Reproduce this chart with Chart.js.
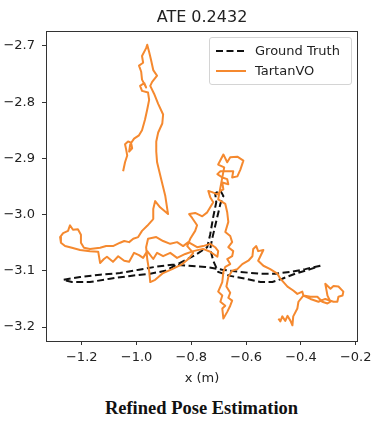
<!DOCTYPE html>
<html>
<head>
<meta charset="utf-8">
<script src="https://cdn.jsdelivr.net/npm/chart.js@4.4.1/dist/chart.umd.min.js"></script>
<style>
  body { margin: 0; background: #fff; }
  #wrap { position: relative; width: 379px; height: 423px; overflow: hidden; }
  #plot { position: absolute; left: 0; top: 0; }
  .titulo { position: absolute; left: 102px; width: 200px; text-align: center; top: 7px;
            font: 16px "DejaVu Sans"; color: #222; }
  .leyenda { position: absolute; left: 209px; top: 37px; width: 141px; height: 46px;
             border: 1px solid #d4d4d4; border-radius: 3px; background: rgba(255,255,255,0.85);
             font: 13px "DejaVu Sans"; color: #222; }
  .fila { position: absolute; left: 0; height: 16px; line-height: 16px; }
  .fila svg { position: absolute; left: 5px; top: 3px; }
  .fila span { position: absolute; left: 45px; white-space: nowrap; }
  .pie { position: absolute; left: 0; width: 403px; text-align: center; top: 398px;
         font: bold 18.5px "Liberation Serif", "Times New Roman", serif; color: #111; }
</style>
</head>
<body>
<div id="wrap">
  <canvas id="plot" width="379" height="390"></canvas>
  <div class="titulo">ATE 0.2432</div>
  <div class="leyenda" id="leyenda"></div>
  <div class="pie">Refined Pose Estimation</div>
</div>
<script>
// nombres y colores de las series
const nombres = ["Ground Truth", "TartanVO"];
const colores = ["#111111", "#f5892f"];

// ticks de los ejes
const ticksX = [-1.2, -1.0, -0.8, -0.6, -0.4, -0.2];
const ticksY = [-3.2, -3.1, -3.0, -2.9, -2.8, -2.7];

// ground truth (x, y en metros)
const gtX = [-0.329, -0.384, -0.438, -0.493, -0.555, -0.621, -0.687, -0.749, -0.811, -0.870,
  -0.932, -0.991, -1.060, -1.133, -1.206, -1.268, -1.236, -1.170, -1.097, -1.023,
  -0.950, -0.895, -0.841, -0.786, -0.742, -0.731, -0.720, -0.709, -0.713, -0.694,
  -0.683, -0.694, -0.709, -0.724, -0.731, -0.720, -0.702, -0.658, -0.603, -0.548,
  -0.504, -0.468, -0.420, -0.365, -0.329];
const gtY = [-3.091, -3.097, -3.102, -3.105, -3.105, -3.102, -3.098, -3.093, -3.091, -3.089,
  -3.093, -3.098, -3.104, -3.107, -3.111, -3.116, -3.120, -3.120, -3.114, -3.109,
  -3.105, -3.100, -3.086, -3.072, -3.058, -3.035, -3.004, -2.978, -2.962, -2.957,
  -2.967, -2.981, -3.012, -3.043, -3.061, -3.082, -3.102, -3.109, -3.114, -3.120,
  -3.120, -3.114, -3.105, -3.097, -3.091];

// estimacion TartanVO
const voX = [-1.049, -1.042, -1.034, -1.038, -1.042, -1.031, -1.020, -1.016, -1.027, -1.023,
  -1.009, -0.991, -0.980, -0.969, -0.961, -0.954, -0.958, -0.980, -0.987, -0.972,
  -0.965, -0.980, -0.983, -0.991, -0.976, -0.980, -0.965, -0.961, -0.954, -0.947,
  -0.939, -0.925, -0.943, -0.950, -0.936, -0.921, -0.903, -0.906, -0.921, -0.928,
  -0.928, -0.925, -0.910, -0.895, -0.885, -0.914, -0.932, -0.939, -0.939, -0.961,
  -0.980, -0.994, -1.012, -1.027, -1.045, -1.060, -1.086, -1.111, -1.133, -1.170,
  -1.192, -1.203, -1.203, -1.214, -1.232, -1.243, -1.250, -1.268, -1.279, -1.276,
  -1.261, -1.236, -1.206, -1.170, -1.140, -1.133, -1.119, -1.108, -1.086, -1.067,
  -1.045, -1.027, -1.009, -0.991, -0.976, -0.961, -0.939, -0.925, -0.903, -0.877,
  -0.852, -0.822, -0.793, -0.757, -0.731, -0.705, -0.702, -0.713, -0.731, -0.757,
  -0.779, -0.811, -0.830, -0.852, -0.877, -0.903, -0.928, -0.958, -0.965, -0.961,
  -0.954, -0.950, -0.932, -0.903, -0.870, -0.833, -0.811, -0.793, -0.815, -0.804,
  -0.786, -0.779, -0.797, -0.808, -0.786, -0.760, -0.742, -0.731, -0.720, -0.731,
  -0.738, -0.724, -0.705, -0.694, -0.683, -0.687, -0.665, -0.669, -0.687, -0.705,
  -0.694, -0.669, -0.647, -0.651, -0.632, -0.621, -0.610, -0.632, -0.658, -0.669,
  -0.683, -0.702, -0.680, -0.702, -0.676, -0.669, -0.665, -0.676, -0.658, -0.651,
  -0.665, -0.647, -0.651, -0.669, -0.658, -0.676, -0.683, -0.687, -0.702, -0.687,
  -0.694, -0.676, -0.687, -0.683, -0.669, -0.658, -0.651, -0.665, -0.658, -0.672,
  -0.665, -0.651, -0.632, -0.614, -0.592, -0.577, -0.574, -0.563, -0.556, -0.537,
  -0.548, -0.556, -0.537, -0.512, -0.486, -0.475, -0.449, -0.428, -0.413, -0.395,
  -0.391, -0.365, -0.340, -0.322, -0.303, -0.292, -0.303, -0.311, -0.292, -0.281,
  -0.263, -0.245, -0.248, -0.263, -0.267, -0.281, -0.311, -0.336, -0.365, -0.391,
  -0.409, -0.413, -0.428, -0.431, -0.438, -0.449, -0.457, -0.468, -0.475, -0.482];
const voY = [-2.923, -2.907, -2.895, -2.884, -2.875, -2.870, -2.872, -2.882, -2.888, -2.875,
  -2.865, -2.859, -2.850, -2.831, -2.813, -2.796, -2.783, -2.780, -2.771, -2.766,
  -2.774, -2.760, -2.746, -2.735, -2.730, -2.718, -2.704, -2.698, -2.711, -2.725,
  -2.743, -2.753, -2.764, -2.771, -2.785, -2.803, -2.822, -2.838, -2.854, -2.870,
  -2.888, -2.907, -2.937, -2.967, -2.999, -2.987, -2.976, -2.990, -3.008, -3.020,
  -3.029, -3.040, -3.043, -3.049, -3.047, -3.050, -3.056, -3.056, -3.059, -3.061,
  -3.059, -3.050, -3.036, -3.026, -3.027, -3.019, -3.029, -3.033, -3.040, -3.050,
  -3.056, -3.059, -3.063, -3.065, -3.066, -3.086, -3.079, -3.075, -3.084, -3.074,
  -3.082, -3.084, -3.068, -3.072, -3.077, -3.065, -3.079, -3.068, -3.074, -3.068,
  -3.077, -3.070, -3.065, -3.061, -3.066, -3.075, -3.065, -3.058, -3.052, -3.056,
  -3.058, -3.049, -3.056, -3.049, -3.052, -3.047, -3.040, -3.043, -3.058, -3.079,
  -3.100, -3.120, -3.116, -3.104, -3.097, -3.088, -3.079, -3.068, -3.056, -3.043,
  -3.029, -3.019, -3.006, -2.999, -2.997, -3.003, -2.996, -2.987, -2.978, -2.969,
  -2.958, -2.960, -2.964, -2.958, -2.955, -2.943, -2.946, -2.937, -2.934, -2.928,
  -2.923, -2.923, -2.923, -2.934, -2.932, -2.920, -2.904, -2.897, -2.898, -2.907,
  -2.893, -2.911, -2.916, -2.973, -2.981, -2.996, -3.013, -3.031, -3.038, -3.049,
  -3.058, -3.065, -3.074, -3.079, -3.088, -3.093, -3.102, -3.120, -3.137, -3.144,
  -3.155, -3.162, -3.167, -3.185, -3.173, -3.162, -3.153, -3.148, -3.139, -3.128,
  -3.111, -3.100, -3.097, -3.088, -3.082, -3.074, -3.061, -3.056, -3.065, -3.063,
  -3.074, -3.082, -3.091, -3.097, -3.105, -3.114, -3.128, -3.135, -3.141, -3.137,
  -3.144, -3.146, -3.146, -3.155, -3.158, -3.155, -3.144, -3.123, -3.132, -3.127,
  -3.128, -3.137, -3.144, -3.146, -3.155, -3.155, -3.150, -3.155, -3.150, -3.144,
  -3.155, -3.167, -3.181, -3.197, -3.189, -3.180, -3.189, -3.181, -3.190, -3.185];

const guion = [7, 3.5];

function aPuntos(xs, ys) {
  return xs.map((x, i) => ({ x: x, y: ys[i] }));
}

// el menos tipografico de matplotlib
function etiqueta(v) {
  return (v < 0 ? "\u2212" : "") + Math.abs(v).toFixed(1);
}

// leyenda dentro del area, como la de matplotlib
const leyenda = document.getElementById("leyenda");
nombres.forEach((nombre, i) => {
  const dash = i === 0 ? `stroke-dasharray="${guion.join(",")}"` : "";
  leyenda.innerHTML += `<div class="fila" style="top:${5 + i * 20}px">
      <svg width="32" height="10"><line x1="1" y1="5" x2="31" y2="5" stroke="${colores[i]}" stroke-width="2" ${dash}/></svg>
      <span>${nombre}</span></div>`;
});

// marco completo alrededor del area del grafico
const marco = {
  id: "marco",
  afterDraw(chart) {
    const a = chart.chartArea;
    const ctx = chart.ctx;
    ctx.save();
    ctx.strokeStyle = "#333";
    ctx.lineWidth = 1;
    ctx.strokeRect(Math.round(a.left) + 0.5, Math.round(a.top) + 0.5,
      Math.round(a.right - a.left) - 1, Math.round(a.bottom - a.top));
    ctx.restore();
  }
};

const fuente = { family: "DejaVu Sans", size: 13 };

new Chart(document.getElementById("plot"), {
  type: "scatter",
  data: {
    datasets: [
      {
        label: nombres[1],
        data: aPuntos(voX, voY),
        showLine: true,
        borderColor: colores[1],
        borderWidth: 2,
        borderJoinStyle: "round",
        pointRadius: 0,
        tension: 0
      },
      {
        label: nombres[0],
        data: aPuntos(gtX, gtY),
        showLine: true,
        borderColor: colores[0],
        borderWidth: 2,
        borderDash: guion,
        pointRadius: 0,
        tension: 0
      }
    ]
  },
  options: {
    responsive: false,
    animation: false,
    devicePixelRatio: 1,
    layout: { padding: { top: 31, right: 21, left: 0, bottom: 0 } },
    plugins: { legend: { display: false }, tooltip: { enabled: false } },
    scales: {
      x: {
        type: "linear",
        min: -1.3305,
        max: -0.1916,
        afterBuildTicks: (eje) => { eje.ticks = ticksX.map(v => ({ value: v })); },
        afterFit: (eje) => { eje.height = 49; },
        grid: { display: true, drawOnChartArea: false, drawTicks: true, tickLength: 4, color: "#333" },
        border: { display: false },
        ticks: { font: fuente, color: "#222", padding: 5, maxRotation: 0, callback: etiqueta },
        title: { display: true, text: "x (m)", font: fuente, color: "#222", padding: { top: 0, bottom: 4 } }
      },
      y: {
        type: "linear",
        min: -3.2248,
        max: -2.6735,
        afterBuildTicks: (eje) => { eje.ticks = ticksY.map(v => ({ value: v })); },
        afterFit: (eje) => { eje.width = 46; },
        grid: { display: true, drawOnChartArea: false, drawTicks: true, tickLength: 4, color: "#333" },
        border: { display: false },
        ticks: { font: fuente, color: "#222", padding: 7, callback: etiqueta }
      }
    }
  },
  plugins: [marco]
});
</script>
</body>
</html>
